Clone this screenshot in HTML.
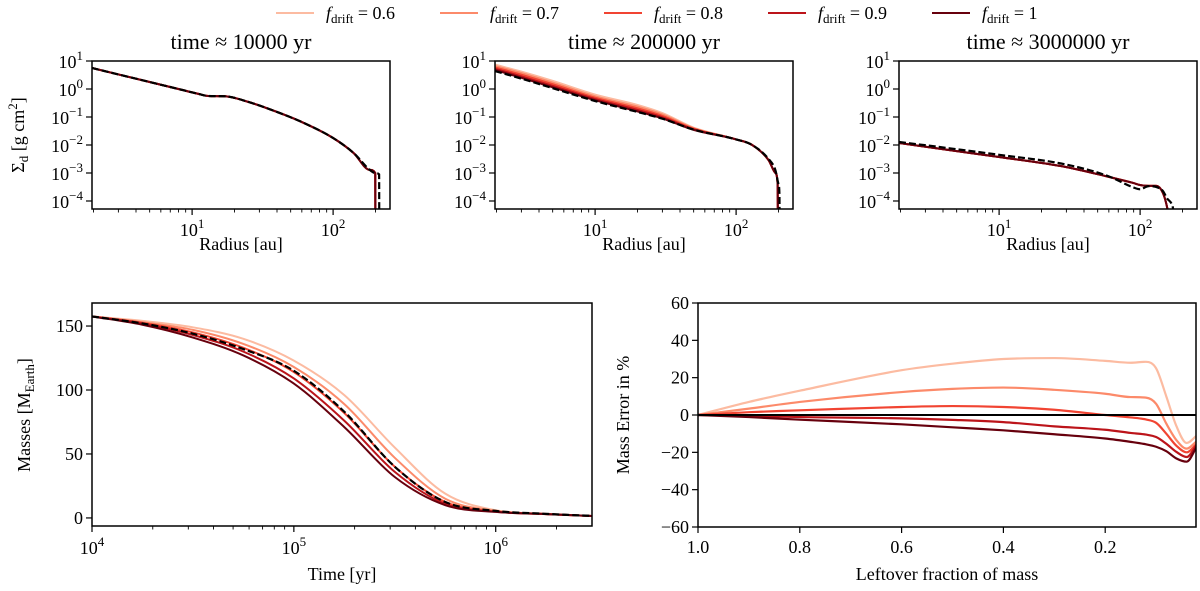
<!DOCTYPE html>
<html><head><meta charset="utf-8"><style>
body{margin:0;background:#fff}
svg{display:block;font-family:"Liberation Serif",serif}
</style></head><body>
<svg id="fig" width="1200" height="591" viewBox="0 0 1200 591" xmlns="http://www.w3.org/2000/svg"></svg>
<script>
// ---------- DATA ----------
const driftLabels = ["0.6","0.7","0.8","0.9","1"];
const seriesColors = ["#fcbba1","#fc8a6a","#f14432","#bc141a","#67000d"];
const titles = ["time \u2248 10000 yr","time \u2248 200000 yr","time \u2248 3000000 yr"];

// panel 1 (t ~ 1e4 yr), log10 sigma
const p1Radius = [1.95,3,5,8,11,13,17,25,40,60,100,140,182,199,199.5];
const p1Red    = [0.75,0.52,0.25,0.0,-0.17,-0.25,-0.26,-0.46,-0.82,-1.18,-1.75,-2.29,-2.89,-3.0,-5];
const p1DashR  = [1.95,3,5,8,11,13,17,25,40,60,100,140,182,199,212,212.5];
const p1Dash   = [0.75,0.52,0.25,0.0,-0.17,-0.25,-0.26,-0.46,-0.82,-1.18,-1.75,-2.29,-2.89,-3.0,-3.05,-5];

// panel 2 (t ~ 2e5 yr)
const p2Radius = [1.95,3,5,10,20,30,50,100,130,170,190,197,198];
const p2F06 = [0.87,0.62,0.29,-0.20,-0.57,-0.86,-1.38,-1.8,-2.0,-2.54,-3.0,-3.4,-5];
const p2F07 = [0.82,0.57,0.23,-0.26,-0.63,-0.91,-1.40,-1.8,-2.0,-2.54,-3.0,-3.4,-5];
const p2F08 = [0.77,0.51,0.17,-0.31,-0.69,-0.96,-1.42,-1.8,-2.0,-2.54,-3.0,-3.4,-5];
const p2F09 = [0.72,0.45,0.11,-0.36,-0.75,-1.01,-1.44,-1.8,-2.0,-2.54,-3.0,-3.4,-5];
const p2F10 = [0.68,0.40,0.06,-0.40,-0.80,-1.05,-1.46,-1.8,-2.0,-2.54,-3.0,-3.4,-5];
const p2DashR = [1.95,3,5,10,20,30,50,100,130,170,190,200,203,203.5];
const p2Dash  = [0.64,0.37,0.03,-0.43,-0.82,-1.06,-1.45,-1.8,-2.0,-2.5,-2.9,-3.4,-3.8,-5];

// panel 3 (t ~ 3e6 yr)
const p3Radius = [1.95,5,10,30,60,90,100,115,130,145,155,160];
const p3Red    = [-1.93,-2.22,-2.43,-2.79,-3.14,-3.36,-3.43,-3.46,-3.46,-3.71,-4.2,-4.6];
const p3DashR  = [1.95,5,10,30,60,90,100,115,130,145,155,170,176];
const p3Dash   = [-1.89,-2.15,-2.35,-2.7,-3.12,-3.52,-3.58,-3.47,-3.5,-3.64,-3.9,-4.2,-4.6];

// masses vs time (log10 yr)
const massLogT = [4,4.25,4.5,4.75,5.0,5.25,5.5,5.75,6.0,6.25,6.477];
const massF06 = [157.5,154,149,140,123,96,55,19,6,3.2,1.5];
const massF07 = [157.5,153,147,136,118,89,47,15,5.5,3.1,1.5];
const massF08 = [157.5,152.5,145,133,114,82,40,12.5,5,3,1.5];
const massF09 = [157.5,152,143,130,109,76,36,11,4.8,3,1.5];
const massF10 = [157.5,151,141,127,105,71,32,10,4.7,3,1.5];
const massDash = [157.5,152,144,132,115,83,40,12.5,5.5,3.2,1.6];

// mass error vs leftover fraction
const leftFrac = [1,0.9,0.8,0.6,0.5,0.4,0.3,0.2,0.15,0.12,0.1,0.08,0.06,0.04,0.02];
const errF06 = [0,7,13,24,27.5,30,30.5,29,28,28.5,25,10,-6,-15,-11];
const errF07 = [0,3.4,7,12.3,14,14.7,13.5,11.4,9.6,9.3,6,-4.6,-13.5,-18,-14];
const errF08 = [0,1.5,2.5,4.3,4.8,4.3,2.8,0,-1.3,-2.4,-4.2,-10,-16.5,-20,-15.5];
const errF09 = [0,-0.4,-1.1,-1.8,-2.6,-3.8,-6.1,-7.9,-9.6,-10.5,-11.8,-15.4,-19.8,-22.5,-16];
const errF10 = [0,-1.1,-2.5,-5,-6.6,-8.2,-10.3,-12.6,-14.4,-15.7,-17,-19.4,-23.3,-25,-17];

const yTicksMass = [0,50,100,150];
const yTicksErr = [-60,-40,-20,0,20,40,60];
const xTicksFrac = [1.0,0.8,0.6,0.4,0.2];

// ---------- DRAWING ----------
const NS = "http://www.w3.org/2000/svg";
const svg = document.getElementById("fig");
function el(tag, attrs, parent){
  const e = document.createElementNS(NS, tag);
  for (const k in attrs) e.setAttribute(k, attrs[k]);
  (parent||svg).appendChild(e);
  return e;
}
function monoPath(pts){
  const n = pts.length; if (n<2) return "";
  const d=[],m=[];
  for(let i=0;i<n-1;i++){ d.push((pts[i+1][1]-pts[i][1])/(pts[i+1][0]-pts[i][0])); }
  m[0]=d[0]; m[n-1]=d[n-2];
  for(let i=1;i<n-1;i++){ m[i]=(d[i-1]*d[i]<=0)?0:(d[i-1]+d[i])/2; }
  for(let i=0;i<n-1;i++){
    if(d[i]===0){m[i]=0;m[i+1]=0;continue;}
    const a=m[i]/d[i], b=m[i+1]/d[i], s=a*a+b*b;
    if(s>9){const t=3/Math.sqrt(s); m[i]=t*a*d[i]; m[i+1]=t*b*d[i];}
  }
  let p = "M"+pts[0][0].toFixed(2)+","+pts[0][1].toFixed(2);
  for(let i=0;i<n-1;i++){
    const h=pts[i+1][0]-pts[i][0];
    p+=" C"+(pts[i][0]+h/3).toFixed(2)+","+(pts[i][1]+m[i]*h/3).toFixed(2)+" "+
       (pts[i+1][0]-h/3).toFixed(2)+","+(pts[i+1][1]-m[i+1]*h/3).toFixed(2)+" "+
       pts[i+1][0].toFixed(2)+","+pts[i+1][1].toFixed(2);
  }
  return p;
}
function txt(x,y,s,size,anchor,parent,name){
  const t = el("text",{x:x,y:y,"font-size":size,"text-anchor":anchor||"middle",fill:"#000"},parent);
  
  
  t.textContent = s; return t;
}
function pow10Label(g,x,y,exp,name){
  const t = el("text",{x:x,y:y,"font-size":18,"text-anchor":"end",fill:"#000"},g);
  
  
  const a = el("tspan",{},t); a.textContent="10";
  const b = el("tspan",{dy:-8,"font-size":13},t); b.textContent = exp<0?"\u2212"+(-exp):String(exp);
  return t;
}
function pow10Center(g,x,y,exp,name){
  const t = el("text",{x:x,y:y,"font-size":18,"text-anchor":"middle",fill:"#000"},g);
  
  
  const a = el("tspan",{},t); a.textContent="10";
  const b = el("tspan",{dy:-8,"font-size":13},t); b.textContent=String(exp);
}

// legend
const legendG = el("g",{});


driftLabels.forEach((lab,i)=>{
  const x0 = 276 + i*164;
  const g = el("g",{},legendG);
  
  
  el("line",{x1:x0,y1:13,x2:x0+38,y2:13,stroke:seriesColors[i],"stroke-width":2},g);
  const t = el("text",{x:x0+50,y:19,"font-size":18,fill:"#000"},g);
  
  
  const a=el("tspan",{"font-style":"italic"},t); a.textContent="f";
  const b=el("tspan",{dy:4,"font-size":13},t); b.textContent="drift";
  const c=el("tspan",{dy:-4},t); c.textContent=" = "+lab;
});

// top panels
const topX = [92,495,899], topW = 298, topY = 61, topH = 148;
const logRmin = 0.29, logRmax = 0.29 + 298/141;
const logSmin = -4.286, logSmax = 1;
const topData = [
  {r:[p1Radius,p1Radius,p1Radius,p1Radius,p1Radius], s:[p1Red,p1Red,p1Red,p1Red,p1Red], dr:p1DashR, ds:p1Dash},
  {r:[p2Radius,p2Radius,p2Radius,p2Radius,p2Radius], s:[p2F06,p2F07,p2F08,p2F09,p2F10], dr:p2DashR, ds:p2Dash},
  {r:[p3Radius,p3Radius,p3Radius,p3Radius,p3Radius], s:[p3Red,p3Red,p3Red,p3Red,p3Red], dr:p3DashR, ds:p3Dash}
];
topData.forEach((pd,pi)=>{
  const X0 = topX[pi];
  const xs = r => X0 + (Math.log10(r)-logRmin)/(logRmax-logRmin)*topW;
  const ys = v => topY + (logSmax-v)/(logSmax-logSmin)*topH;
  const g = el("g",{});
  
  
  const cid = "clipTop"+pi;
  const cp = el("clipPath",{id:cid},g); el("rect",{x:X0,y:topY,width:topW,height:topH},cp);
  const lines = el("g",{"clip-path":"url(#"+cid+")"},g);
  pd.s.forEach((arr,si)=>{
    const pts = pd.r[si].map((r,k)=>[xs(r),ys(arr[k])]);
    const p = el("path",{d:monoPath(pts),fill:"none",stroke:seriesColors[si],"stroke-width":2},lines);
    
    
  });
  const dp = el("path",{d:monoPath(pd.dr.map((r,k)=>[xs(r),ys(pd.ds[k])])),fill:"none",stroke:"#000","stroke-width":2.2,"stroke-dasharray":"7,3"},lines);
  
  
  el("rect",{x:X0,y:topY,width:topW,height:topH,fill:"none",stroke:"#000","stroke-width":1.5},g);
  for(let e=-4;e<=1;e++){
    const y = ys(e);
    el("line",{x1:X0-6,y1:y,x2:X0,y2:y,stroke:"#000","stroke-width":1.2},g);
    pow10Label(g,X0-9,y+7,e,'y-tick-label');
  }
  for(let dec=0;dec<=2;dec++){
    for(let k=1;k<=9;k++){
      const r=k*Math.pow(10,dec); const lr=Math.log10(r);
      if(lr<logRmin||lr>logRmax) continue;
      const x=xs(r);
      el("line",{x1:x,y1:topY+topH,x2:x,y2:topY+topH+(k===1?6:3.5),stroke:"#000","stroke-width":k===1?1.2:0.9},g);
      if(k===1 && dec>0) pow10Center(g,x,topY+topH+27,dec,'x-tick-label');
    }
  }
  txt(X0+topW/2,250,"Radius [au]",18,"middle",g,'x-axis-title');
  txt(X0+topW/2,49,titles[pi],22,"middle",g,'panel-title');
});
// sigma y label
{
  const t = el("text",{x:0,y:0,"font-size":18,"text-anchor":"middle",fill:"#000",transform:"translate(24,135) rotate(-90)"});
  
  
  const a=el("tspan",{},t); a.textContent="\u03A3";
  const b=el("tspan",{dy:4,"font-size":13},t); b.textContent="d";
  const c=el("tspan",{dy:-4},t); c.textContent=" [g cm";
  const d=el("tspan",{dy:-7,"font-size":13},t); d.textContent="2";
  const e=el("tspan",{dy:7},t); e.textContent="]";
}

// bottom-left masses
{
  const X0=92,W=500,Y0=303,H=223;
  const tmin=4,tmax=6.477,mmin=-6.3,mmax=168;
  const xs=l=>X0+(l-tmin)/(tmax-tmin)*W;
  const ys=v=>Y0+(mmax-v)/(mmax-mmin)*H;
  const g=el("g",{});
  
  
  const cp=el("clipPath",{id:"clipM"},g); el("rect",{x:X0,y:Y0,width:W,height:H},cp);
  const lines=el("g",{"clip-path":"url(#clipM)"},g);
  [massF06,massF07,massF08,massF09,massF10].forEach((arr,si)=>{
    const p=el("path",{d:monoPath(massLogT.map((l,k)=>[xs(l),ys(arr[k])])),fill:"none",stroke:seriesColors[si],"stroke-width":2},lines);
    
    
  });
  const dp=el("path",{d:monoPath(massLogT.map((l,k)=>[xs(l),ys(massDash[k])])),fill:"none",stroke:"#000","stroke-width":2.2,"stroke-dasharray":"7,3"},lines);
  
  
  el("rect",{x:X0,y:Y0,width:W,height:H,fill:"none",stroke:"#000","stroke-width":1.5},g);
  yTicksMass.forEach(v=>{
    const y=ys(v);
    el("line",{x1:X0-6,y1:y,x2:X0,y2:y,stroke:"#000","stroke-width":1.2},g);
    txt(X0-9,y+6,String(v),18,"end",g,'y-tick-label');
  });
  for(let dec=4;dec<=6;dec++){
    for(let k=1;k<=9;k++){
      const l=dec+Math.log10(k); if(l>tmax+1e-6) continue;
      const x=xs(l);
      el("line",{x1:x,y1:Y0+H,x2:x,y2:Y0+H+(k===1?6:3.5),stroke:"#000","stroke-width":k===1?1.2:0.9},g);
      if(k===1) pow10Center(g,x,Y0+H+28,dec,'x-tick-label');
    }
  }
  txt(X0+W/2,580,"Time [yr]",18,"middle",g,'x-axis-title');
  const t=el("text",{x:0,y:0,"font-size":18,"text-anchor":"middle",fill:"#000",transform:"translate(30,415) rotate(-90)"},g);
  
  
  const a=el("tspan",{},t); a.textContent="Masses [M";
  const b=el("tspan",{dy:4,"font-size":13},t); b.textContent="Earth";
  const c=el("tspan",{dy:-4},t); c.textContent="]";
}

// bottom-right mass error
{
  const X0=698,W=498,Y0=303,H=224;
  const fmax=1.0,fmin=1-498/509,emin=-60,emax=60;
  const xs=f=>X0+(fmax-f)/(fmax-fmin)*W;
  const ys=v=>Y0+(emax-v)/(emax-emin)*H;
  const g=el("g",{});
  
  
  const cp=el("clipPath",{id:"clipE"},g); el("rect",{x:X0,y:Y0,width:W,height:H},cp);
  const lines=el("g",{"clip-path":"url(#clipE)"},g);
  [errF06,errF07,errF08,errF09,errF10].forEach((arr,si)=>{
    const p=el("path",{d:monoPath(leftFrac.map((f,k)=>[xs(f),ys(arr[k])])),fill:"none",stroke:seriesColors[si],"stroke-width":2.2},lines);
    
    
  });
  const z=el("line",{x1:X0,y1:ys(0),x2:X0+W,y2:ys(0),stroke:"#000","stroke-width":2},lines);
  
  
  el("rect",{x:X0,y:Y0,width:W,height:H,fill:"none",stroke:"#000","stroke-width":1.5},g);
  yTicksErr.forEach(v=>{
    const y=ys(v);
    el("line",{x1:X0-6,y1:y,x2:X0,y2:y,stroke:"#000","stroke-width":1.2},g);
    txt(X0-9,y+6,v<0?"\u2212"+(-v):String(v),18,"end",g,'y-tick-label');
  });
  xTicksFrac.forEach(f=>{
    const x=xs(f);
    el("line",{x1:x,y1:Y0+H,x2:x,y2:Y0+H+6,stroke:"#000","stroke-width":1.2},g);
    txt(x,Y0+H+26,f.toFixed(1),18,"middle",g,'x-tick-label');
  });
  txt(X0+W/2,580,"Leftover fraction of mass",18,"middle",g,'x-axis-title');
  const t=el("text",{x:0,y:0,"font-size":18,"text-anchor":"middle",fill:"#000",transform:"translate(629,415) rotate(-90)"},g);
  
  
  t.textContent="Mass Error in %";
}
</script>
</body></html>
